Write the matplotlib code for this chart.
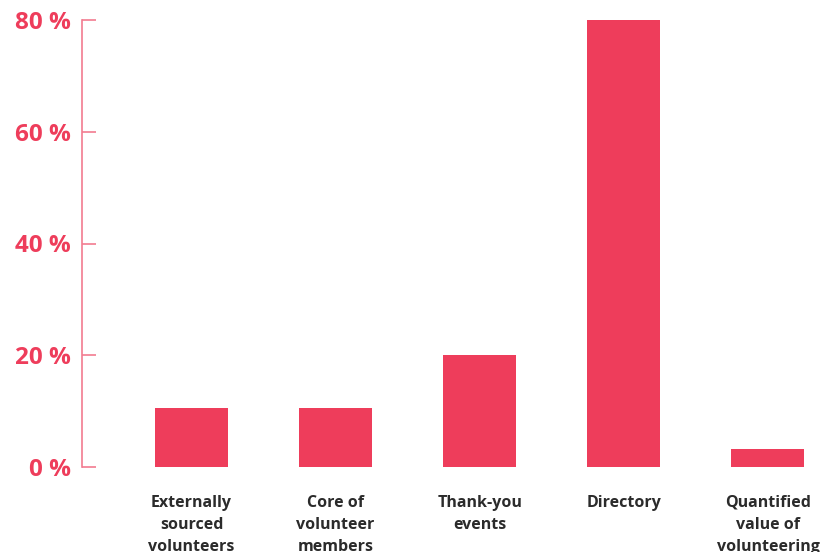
import matplotlib
matplotlib.use("Agg")
import matplotlib.pyplot as plt
from matplotlib import font_manager as fm
import os

categories = ["Externally\nsourced\nvolunteers", "Core of\nvolunteer\nmembers",
              "Thank-you\nevents", "Directory", "Quantified\nvalue of\nvolunteering"]
values = [10.5, 10.5, 20, 80, 3.3]
yticks = [0, 20, 40, 60, 80]
ytick_labels = ["0 %", "20 %", "40 %", "60 %", "80 %"]

bar_color = "#EE3D5B"
spine_color = "#F27C90"
text_color = "#2B2B2B"

plt.rcParams['font.family'] = ['Open Sans', 'DejaVu Sans']


def bold_font(size):
    cands = []
    for f in fm.fontManager.ttflist:
        base = os.path.basename(f.fname).lower()
        if f.name == 'Open Sans' and 'condensed' not in base and 'semi' not in base \
                and 'italic' not in base and f.style == 'normal':
            cands.append(f)
    # prefer static Bold file
    for f in cands:
        b = os.path.basename(f.fname).lower()
        if b.endswith('-bold.ttf') or b == 'opensans-bold.ttf':
            return fm.FontProperties(fname=f.fname, size=size)
    return fm.FontProperties(family=['Open Sans', 'DejaVu Sans'], weight='bold',
                             stretch='normal', size=size)


fig = plt.figure(figsize=(8.4, 5.52), dpi=100)
ax = fig.add_axes([82/840, 1-467/552, 1-82/840, (467-20)/552])
x = list(range(len(categories)))
ax.bar(x, values, width=0.507, color=bar_color, zorder=2)
ax.set_xlim(-0.76, 4.5)
ax.set_ylim(0, 80)
ax.set_yticks(yticks)
ax.set_yticklabels(ytick_labels, fontproperties=bold_font(17.5), color=bar_color)
ax.set_xticks(x)
ax.set_xticklabels(categories, fontproperties=bold_font(11.5), color=text_color,
                   linespacing=1.5, va='top')
for s in ['top', 'right', 'bottom']:
    ax.spines[s].set_visible(False)
ax.spines['left'].set_color(spine_color)
ax.spines['left'].set_linewidth(1.2)
ax.tick_params(axis='y', direction='in', length=10, width=1.2, color=spine_color, pad=8)
ax.tick_params(axis='x', length=0, pad=20)
fig.savefig("out.png", dpi=100)
